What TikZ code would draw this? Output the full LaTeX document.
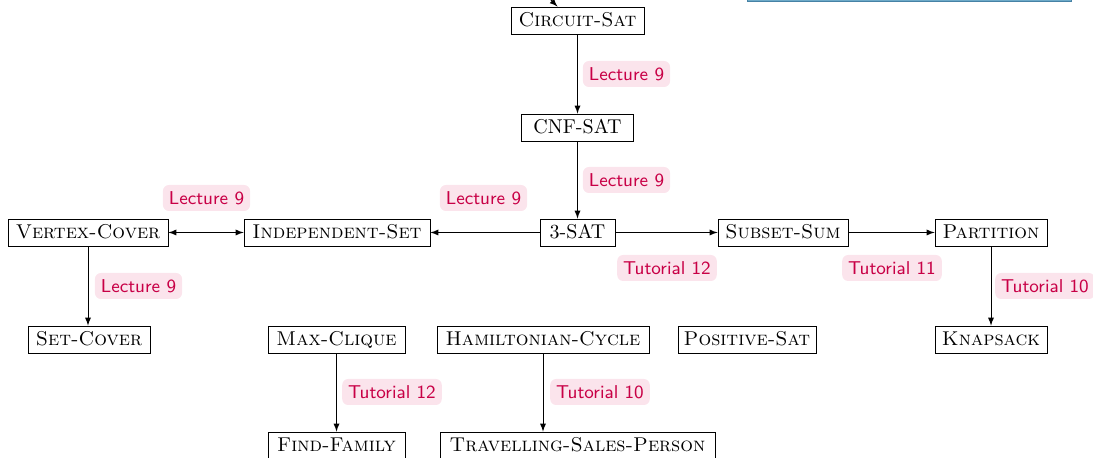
\documentclass[tikz,border=0pt]{standalone}
\usetikzlibrary{arrows.meta}
\definecolor{labtext}{RGB}{200,0,70}
\definecolor{labfill}{RGB}{251,228,236}
\definecolor{blueline}{RGB}{110,170,200}
\definecolor{bluedark}{RGB}{70,130,165}
\tikzset{
  prob/.style={draw, font=\scshape, inner xsep=3.33pt, inner ysep=0pt, minimum height=13.5pt, text height=7pt, text depth=0.5pt},
  plain/.style={draw, inner xsep=3.33pt, inner ysep=0pt, minimum height=13.5pt, text height=7pt, text depth=0.5pt},
  lab/.style={fill=labfill, text=labtext, font=\sffamily\fontsize{9.3pt}{11pt}\selectfont, rounded corners=3pt, inner xsep=3pt, inner ysep=0pt, minimum height=13pt, text height=6.6pt, text depth=0.2pt},
  arr/.style={-latex, line width=0.4pt},
  darr/.style={latex-latex, line width=0.4pt}
}
\begin{document}
\begin{tikzpicture}[x=0.5pt,y=-0.5pt]
\useasboundingbox (0,0) rectangle (1093,458);
% top decorations
\fill[blueline] (747,-6) rectangle (1071,1.2);
\draw[bluedark, line width=0.3pt] (747,-6) -- (747,1.2) -- (1071,1.2) -- (1071,-6);
% nodes
\node[prob, minimum width=66.5pt] (cs) at (577.5,20.5) {Circuit-Sat};
\node[plain, minimum width=56pt] (cnf) at (577.5,127.5) {CNF-SAT};
\node[plain, minimum width=37.5pt] (sat3) at (577.5,232.5) {3-SAT};
\node[prob, minimum width=93pt] (is) at (337,232.5) {Independent-Set};
\node[prob, minimum width=80pt] (vc) at (88,232.5) {Vertex-Cover};
\node[prob, minimum width=65pt] (ss) at (783,232.5) {Subset-Sum};
\node[prob, minimum width=56pt] (part) at (991,232.5) {Partition};
\node[prob, minimum width=61pt] (sc) at (89,339.5) {Set-Cover};
\node[prob, minimum width=68.5pt] (mc) at (336.5,339.5) {Max-Clique};
\node[prob, minimum width=106pt] (hc) at (543,339.5) {Hamiltonian-Cycle};
\node[prob, minimum width=69pt, inner xsep=2.8pt] (ps) at (747,339.5) {Positive-Sat};
\node[prob, minimum width=56pt] (knap) at (991,339.5) {Knapsack};
\node[prob, minimum width=68.5pt] (ff) at (336.5,445.5) {Find-Family};
\node[prob, minimum width=137.5pt] (tsp) at (577.5,445.5) {Travelling-Sales-Person};
% incoming arrow at top
\coordinate (topin) at (540,-4);
\draw[arr] (topin) to[out=5,in=135] ([xshift=-10pt]cs.north);
% edges
\draw[arr] (cs) -- (cnf);
\draw[arr] (cnf) -- (sat3);
\draw[arr] (sat3) -- (is);
\draw[darr] (vc) -- (is);
\draw[arr] (vc.south) -- (vc.south |- sc.north);
\draw[arr] (sat3) -- (ss);
\draw[arr] (ss) -- (part);
\draw[arr] (part) -- (knap);
\draw[arr] (mc) -- (ff);
\draw[arr] (hc.south) -- (hc.south |- tsp.north);
% labels
\node[lab] (l1) at (626.5,74) {Lecture 9};
\node[lab] (l2) at (626.5,180) {Lecture 9};
\node[lab] (l3) at (483.5,198) {Lecture 9};
\node[lab] (l4) at (206.5,198) {Lecture 9};
\node[lab] (l5) at (138.5,286) {Lecture 9};
\node[lab] (l6) at (667,268) {Tutorial 12};
\node[lab] (l7) at (892,268) {Tutorial 11};
\node[lab] (l8) at (1045,286) {Tutorial 10};
\node[lab] (l9) at (392,392) {Tutorial 12};
\node[lab] (l10) at (600,392) {Tutorial 10};
\end{tikzpicture}
\end{document}
